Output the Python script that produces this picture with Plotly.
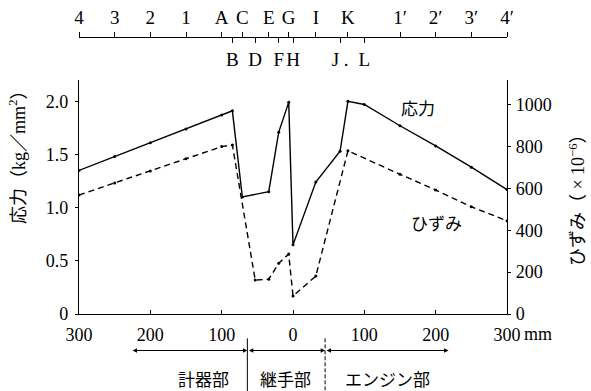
import plotly.graph_objects as go

# ---- data ----
scale_upper_pos = [-300, -250, -200, -150, -100, -71, -34, -6, 32, 77, 150, 200, 250, 300]
scale_upper_txt = ["4", "3", "2", "1", "A", "C", "E", "G", "I", "K", "1′", "2′", "3′", "4′"]
scale_lower_pos = [-85, -53, -20, 0, 66, 100]
scale_lower_txt = ["B", "D", "F", "H", "J .", "L"]

stress_x = [-300, -250, -200, -150, -100, -85, -71, -34, -20, -6, 0, 32, 66, 77, 100, 150, 200, 250, 300]
stress_y = [1.35, 1.48, 1.61, 1.74, 1.87, 1.91, 1.10, 1.15, 1.71, 1.99, 0.65, 1.24, 1.53, 2.00, 1.97, 1.77, 1.58, 1.38, 1.17]

strain_x = [-300, -250, -200, -150, -100, -85, -53, -34, -20, -6, 0, 32, 77, 150, 200, 250, 300]
strain_y = [568, 625, 683, 741, 799, 807, 162, 166, 242, 286, 86, 181, 779, 667, 592, 512, 445]

x_ticks = [-300, -200, -100, 0, 100, 200, 300]
x_ticktext = ["300", "200", "100", "0", "100", "200", "300"]
stress_ticks = [0, 0.5, 1.0, 1.5, 2.0]
stress_ticktext = ["0", "0.5", "1.0", "1.5", "2.0"]
strain_ticks = [0, 200, 400, 600, 800, 1000]

region_names = ["計器部", "継手部", "エンジン部"]
region_bounds = [-227, -64, 45, 218]
region_label_x = [-125, -10, 133]

SERIF = "Liberation Serif, Noto Sans CJK JP"
JP = "Noto Sans CJK JP"

fig = go.Figure()
fig.add_trace(go.Scatter(x=stress_x, y=stress_y, mode="lines+markers",
                         line=dict(color="black", width=1.4),
                         marker=dict(size=3, color="black"),
                         showlegend=False, hoverinfo="skip"))
fig.add_trace(go.Scatter(x=strain_x, y=strain_y, yaxis="y2", mode="lines+markers",
                         line=dict(color="black", width=1.4, dash="6px,4px"),
                         marker=dict(size=3, color="black"),
                         showlegend=False, hoverinfo="skip"))
# carriers for the top position scale axes
for ax in ["x2", "x3"]:
    fig.add_trace(go.Scatter(x=[-300, 300], y=[None, None], xaxis=ax, yaxis="y",
                             mode="lines", showlegend=False, hoverinfo="skip"))

TOP = 0.7697
SCALE_POS = 0.912
fig.update_layout(
    width=591, height=391,
    margin=dict(l=79, r=84, t=10, b=77, autoexpand=False),
    paper_bgcolor="white", plot_bgcolor="white",
    font=dict(family=SERIF, size=18, color="black"),
    xaxis=dict(range=[-300, 300], domain=[0, 1], tickvals=x_ticks, ticktext=x_ticktext,
               ticks="inside", ticklen=4, tickcolor="black", showline=True,
               linecolor="black", linewidth=1.4, showgrid=False, zeroline=False,
               tickfont=dict(family=SERIF, size=18), ticklabelstandoff=4,
               tickangle=0, automargin=False),
    yaxis=dict(range=[0, 2.2], domain=[0, TOP], tickvals=stress_ticks, ticktext=stress_ticktext,
               ticks="outside", ticklen=3, tickcolor="black", showline=True,
               linecolor="black", linewidth=1.4, showgrid=False, zeroline=False,
               tickfont=dict(family=SERIF, size=18), ticklabelstandoff=3, automargin=False),
    yaxis2=dict(range=[0, 1117], overlaying="y", side="right", tickvals=strain_ticks,
                ticks="outside", ticklen=3, tickcolor="black", showline=True,
                linecolor="black", linewidth=1.4, showgrid=False, zeroline=False,
                tickfont=dict(family=SERIF, size=18), ticklabelstandoff=1, automargin=False),
    xaxis2=dict(range=[-300, 300], overlaying="x", anchor="free", position=SCALE_POS,
                side="top", tickvals=scale_upper_pos, ticktext=scale_upper_txt,
                ticks="outside", ticklen=5, tickcolor="black", showline=True,
                linecolor="black", linewidth=1.4, showgrid=False, zeroline=False,
                tickfont=dict(family=SERIF, size=19), ticklabelstandoff=0,
                tickangle=0, automargin=False),
    xaxis3=dict(range=[-300, 300], overlaying="x", anchor="free", position=SCALE_POS,
                side="bottom", tickvals=scale_lower_pos, ticktext=scale_lower_txt,
                ticks="outside", ticklen=5, tickcolor="black", showline=False,
                showgrid=False, zeroline=False,
                tickfont=dict(family=SERIF, size=19), ticklabelstandoff=0,
                tickangle=0, automargin=False),
)

ann = []
# series labels
ann.append(dict(x=175, y=1.94, xref="x", yref="y", text="応力", showarrow=False,
                xanchor="center", yanchor="middle", font=dict(family=JP, size=17)))
ann.append(dict(x=201, y=0.865, xref="x", yref="y", text="ひずみ", showarrow=False,
                xanchor="center", yanchor="middle", font=dict(family=JP, size=17)))
# axis titles
ann.append(dict(x=0, y=0.53, xref="paper", yref="paper", xshift=-61, textangle=-90,
                xanchor="center", yanchor="middle",
                text="応力（kg／mm<sup>2</sup>）", showarrow=False,
                font=dict(family=SERIF, size=18)))
ann.append(dict(x=1, y=0.388, xref="paper", yref="paper", xshift=70, textangle=-90,
                xanchor="center", yanchor="middle",
                text="ひずみ（ × 10<sup>−6</sup>）", showarrow=False,
                font=dict(family=SERIF, size=18)))
# mm unit
ann.append(dict(x=300, y=-0.066, xref="x", yref="paper", xanchor="left", yanchor="middle",
                xshift=15, text="mm", showarrow=False, font=dict(family=SERIF, size=18)))
# region arrows and names
ARROW_Y = -0.12
for i, name in enumerate(region_names):
    x0, x1 = region_bounds[i], region_bounds[i + 1]
    ann.append(dict(x=x1, y=ARROW_Y, xref="x", yref="paper", ax=x0, ay=0,
                    axref="x", ayref="pixel", text="", showarrow=True,
                    arrowhead=2, arrowsize=0.8, arrowwidth=1.1, arrowside="end+start",
                    arrowcolor="black", startarrowhead=2, startarrowsize=0.8))
    ann.append(dict(x=region_label_x[i], y=-0.212, xref="x", yref="paper", text=name,
                    xanchor="center", yanchor="middle", showarrow=False,
                    font=dict(family=JP, size=17)))
fig.update_layout(annotations=ann)

# region separators
fig.add_shape(type="line", xref="x", yref="paper", x0=region_bounds[1], x1=region_bounds[1],
              y0=-0.08, y1=-0.26, line=dict(color="black", width=1))
fig.add_shape(type="line", xref="x", yref="paper", x0=region_bounds[2], x1=region_bounds[2],
              y0=-0.08, y1=-0.26, line=dict(color="black", width=1, dash="4px,2px"))

fig.write_html("out.html")
